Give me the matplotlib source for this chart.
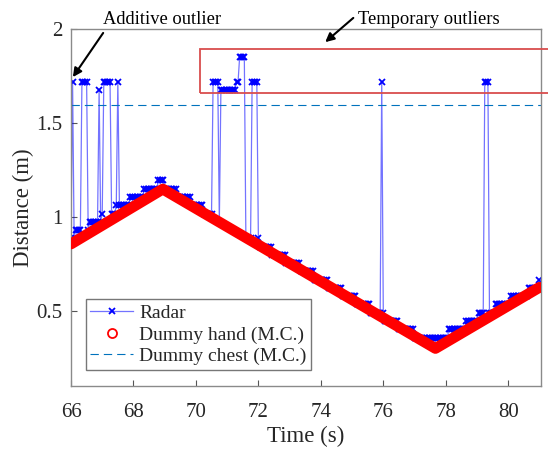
import numpy as np
import matplotlib
matplotlib.use("Agg")
import matplotlib.pyplot as plt
from matplotlib.lines import Line2D
from matplotlib.patches import Rectangle

plt.rcParams['font.family'] = ['Liberation Serif', 'DejaVu Serif']

# ---------------- data ----------------
# Dummy hand (motion capture) trajectory vertices
hand_t = [66.0, 68.94, 77.67, 81.0]
hand_d = [0.856, 1.148, 0.300, 0.625]

# Dummy chest (motion capture) level
chest_d = 1.595

# Radar: 20 Hz samples, quantised range bins (step start time -> level)
radar_t0, radar_t1, radar_dt = 66.0, 81.0, 0.05
radar_step_start = [66.00, 66.15, 66.60, 67.00, 67.45, 67.90, 68.35, 68.80,
                    69.00, 69.40, 69.85, 70.25, 70.70, 71.10, 71.55, 72.05,
                    72.45, 72.90, 73.35, 73.80, 74.25, 74.70, 75.15, 75.60,
                    76.05, 76.50, 77.00, 78.10, 78.65, 79.05, 79.60, 80.10,
                    80.65, 81.00]
radar_step_level = [0.886, 0.930, 0.974, 1.018, 1.062, 1.106, 1.150, 1.194,
                    1.150, 1.106, 1.062, 1.018, 0.974, 0.930, 0.886, 0.842,
                    0.798, 0.754, 0.710, 0.666, 0.622, 0.578, 0.534, 0.490,
                    0.446, 0.402, 0.358, 0.402, 0.446, 0.490, 0.534, 0.578,
                    0.622, 0.666]
# Radar outlier samples
outlier_t = [66.05, 66.35, 66.40, 66.45, 66.50, 66.90, 67.05, 67.10, 67.15,
             67.20, 67.25, 67.50, 70.55, 70.60, 70.65, 70.70, 70.80, 70.85,
             70.90, 70.95, 71.00, 71.05, 71.10, 71.15, 71.20, 71.25, 71.30,
             71.35, 71.40, 71.45, 71.50, 71.55, 71.80, 71.85, 71.90, 71.95,
             75.95, 79.25, 79.30, 79.35]
outlier_d = [1.720, 1.720, 1.720, 1.720, 1.720, 1.676, 1.720, 1.720, 1.720,
             1.720, 1.720, 1.720, 1.720, 1.720, 1.720, 1.720, 1.676, 1.676,
             1.676, 1.676, 1.676, 1.676, 1.676, 1.676, 1.676, 1.676, 1.720,
             1.720, 1.852, 1.852, 1.852, 1.852, 1.720, 1.720, 1.720, 1.720,
             1.720, 1.720, 1.720, 1.720]

x_ticks = [66, 68, 70, 72, 74, 76, 78, 80]
y_ticks = [0.5, 1.0, 1.5, 2.0]
y_ticklabels = ['0.5', '1', '1.5', '2']

# ---------------- build radar series ----------------
n = int(round((radar_t1 - radar_t0) / radar_dt)) + 1
radar_t = radar_t0 + radar_dt * np.arange(n)
idx = np.searchsorted(np.array(radar_step_start), radar_t + 1e-9, side='right') - 1
radar_d = np.array(radar_step_level)[idx]
oi = np.round((np.array(outlier_t) - radar_t0) / radar_dt).astype(int)
radar_d[oi] = np.array(outlier_d)

# ---------------- figure ----------------
W, H = 548, 449
fig = plt.figure(figsize=(W / 100, H / 100), dpi=100)
ax = fig.add_axes([71 / W, 1 - 386 / H, 470 / W, 357 / H])

txt_col = '#262626'
radar_line, = ax.plot(radar_t, radar_d, color=(0, 0, 1, 0.55), lw=0.9,
                      marker='x', ms=5, mew=1.3, mec='blue', zorder=2,
                      label='Radar')
ax.plot(hand_t, hand_d, color='red', lw=7.8, solid_capstyle='round',
        solid_joinstyle='round', zorder=3)
chest_line = ax.axhline(chest_d, color=(0, 0.447, 0.741), lw=0.8,
                        dashes=(7.5, 4.5), zorder=2, label='Dummy chest (M.C.)')

hand_proxy = Line2D([], [], ls='none', marker='o', ms=6.5, mfc='none',
                    mec='red', mew=1.3, label='Dummy hand (M.C.)')

ax.set_xlim(66, 81.05)
ax.set_ylim(0.1, 2.0)
ax.set_xticks(x_ticks)
ax.set_yticks(y_ticks)
ax.set_yticklabels(y_ticklabels)
ax.tick_params(direction='in', length=4, width=0.8, colors='#555555',
               labelcolor=txt_col, labelsize=15)
ax.tick_params(axis='x', pad=12)
ax.tick_params(axis='y', pad=6)
for s in ax.spines.values():
    s.set_color('#8a8a8a')
    s.set_linewidth(1.0)

ax.set_xlabel('Time (s)', fontsize=16.5, color=txt_col, labelpad=3)
ax.set_ylabel('Distance (m)', fontsize=16.5, color=txt_col, labelpad=2)

leg = ax.legend(handles=[radar_line, hand_proxy, chest_line],
                loc='lower left', bbox_to_anchor=(0.031, 0.045),
                borderaxespad=0, fontsize=14, handlelength=2.2,
                handletextpad=0.3, labelspacing=0.2, borderpad=0.25,
                fancybox=False, framealpha=1, edgecolor='#777777')
leg.get_frame().set_linewidth(1.0)
for t in leg.get_texts():
    t.set_color(txt_col)

# Temporary outliers box
ax.add_patch(Rectangle((70.13, 1.661), 12.0, 0.231, fill=False,
                       edgecolor=(0.85, 0.3, 0.3), lw=1.3, clip_on=False,
                       zorder=4))

# Annotations
ax.annotate('', xy=(66.06, 1.744), xytext=(67.03, 1.979),
            arrowprops=dict(arrowstyle='-|>', color='k', lw=1.5,
                            mutation_scale=13, shrinkA=0, shrinkB=0),
            annotation_clip=False)
ax.text(67.03, 2.053, 'Additive outlier', fontsize=13.3, color='k',
        ha='left', va='center', clip_on=False)
ax.annotate('', xy=(74.14, 1.93), xytext=(75.04, 2.059),
            arrowprops=dict(arrowstyle='-|>', color='k', lw=1.5,
                            mutation_scale=13, shrinkA=0, shrinkB=0),
            annotation_clip=False)
ax.text(75.2, 2.053, 'Temporary outliers', fontsize=13.3, color='k',
        ha='left', va='center', clip_on=False)

fig.savefig('out.png', dpi=100)
